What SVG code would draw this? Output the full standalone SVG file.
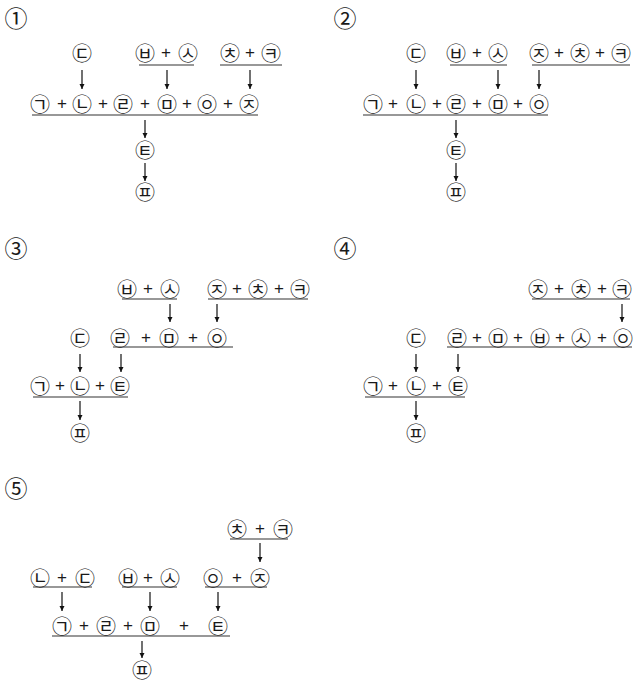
<svg xmlns="http://www.w3.org/2000/svg" width="633" height="683" viewBox="0 0 633 683">
<style>
text{font-family:"Noto Sans CJK KR","Noto Sans CJK JP",sans-serif;fill:#1a1a1a;text-anchor:middle;dominant-baseline:central}
.c{font-size:20px}
.p{font-size:17px;font-family:"Liberation Sans",sans-serif}
.n{font-size:23px;font-family:"Noto Sans CJK KR","DejaVu Sans",sans-serif}
.u{stroke:#333;stroke-width:1.2}
.a{stroke:#111;stroke-width:1.2;marker-end:url(#ah)}
</style>
<defs>
<marker id="ah" viewBox="0 0 10 10" refX="10" refY="5" markerWidth="5" markerHeight="6" markerUnits="userSpaceOnUse" orient="auto"><path d="M0,0L10,5L0,10z" fill="#111"/></marker>
</defs>

<!-- Panel 1 -->
<g id="p1">
<text class="n" x="16" y="17">①</text>
<g id="p1-d"><text class="c" x="82" y="52">㉢</text></g>
<g id="p1-bs"><text class="c" x="145" y="52">㉥</text><text class="p" x="166" y="52">+</text><text class="c" x="188" y="52">㉦</text><line class="u" x1="139" y1="65" x2="194" y2="65"/></g>
<g id="p1-chk"><text class="c" x="230" y="52">㉩</text><text class="p" x="250" y="52">+</text><text class="c" x="271" y="52">㉪</text><line class="u" x1="220" y1="65" x2="282" y2="65"/></g>
<g id="p1-main"><text class="c" x="40" y="103">㉠</text><text class="p" x="62" y="103">+</text><text class="c" x="82" y="103">㉡</text><text class="p" x="103" y="103">+</text><text class="c" x="123" y="103">㉣</text><text class="p" x="145" y="103">+</text><text class="c" x="167" y="103">㉤</text><text class="p" x="187" y="103">+</text><text class="c" x="207" y="103">㉧</text><text class="p" x="228" y="103">+</text><text class="c" x="249" y="103">㉨</text><line class="u" x1="32" y1="115" x2="258" y2="115"/></g>
<g id="p1-t"><text class="c" x="145" y="149">㉫</text></g>
<g id="p1-pp"><text class="c" x="145" y="191">㉬</text></g>
</g>

<!-- Panel 2 -->
<g id="p2">
<text class="n" x="345" y="17">②</text>
<g id="p2-d"><text class="c" x="416" y="52">㉢</text></g>
<g id="p2-bs"><text class="c" x="456" y="52">㉥</text><text class="p" x="477" y="52">+</text><text class="c" x="498" y="52">㉦</text><line class="u" x1="450" y1="65" x2="507" y2="65"/></g>
<g id="p2-jchk"><text class="c" x="539" y="52">㉨</text><text class="p" x="559" y="52">+</text><text class="c" x="580" y="52">㉩</text><text class="p" x="600" y="52">+</text><text class="c" x="621" y="52">㉪</text><line class="u" x1="532" y1="65" x2="630" y2="65"/></g>
<g id="p2-main"><text class="c" x="373" y="103">㉠</text><text class="p" x="393" y="103">+</text><text class="c" x="416" y="103">㉡</text><text class="p" x="437" y="103">+</text><text class="c" x="456" y="103">㉣</text><text class="p" x="477" y="103">+</text><text class="c" x="498" y="103">㉤</text><text class="p" x="518" y="103">+</text><text class="c" x="539" y="103">㉧</text><line class="u" x1="363" y1="115" x2="548" y2="115"/></g>
<g id="p2-t"><text class="c" x="456" y="149">㉫</text></g>
<g id="p2-pp"><text class="c" x="456" y="191">㉬</text></g>
</g>

<!-- Panel 3 -->
<g id="p3">
<text class="n" x="16" y="247">③</text>
<g id="p3-bs"><text class="c" x="127" y="288">㉥</text><text class="p" x="148" y="288">+</text><text class="c" x="170" y="288">㉦</text><line class="u" x1="122" y1="299" x2="177" y2="299"/></g>
<g id="p3-jchk"><text class="c" x="217" y="288">㉨</text><text class="p" x="237" y="288">+</text><text class="c" x="258" y="288">㉩</text><text class="p" x="279" y="288">+</text><text class="c" x="300" y="288">㉪</text><line class="u" x1="208" y1="299" x2="308" y2="299"/></g>
<g id="p3-d"><text class="c" x="80" y="337">㉢</text></g>
<g id="p3-mid"><text class="c" x="120" y="337">㉣</text><text class="p" x="146" y="337">+</text><text class="c" x="169" y="337">㉤</text><text class="p" x="193" y="337">+</text><text class="c" x="217" y="337">㉧</text><line class="u" x1="113" y1="347" x2="233" y2="347"/></g>
<g id="p3-main"><text class="c" x="40" y="385">㉠</text><text class="p" x="60" y="385">+</text><text class="c" x="80" y="385">㉡</text><text class="p" x="100" y="385">+</text><text class="c" x="120" y="385">㉫</text><line class="u" x1="33" y1="397" x2="128" y2="397"/></g>
<g id="p3-pp"><text class="c" x="80" y="432">㉬</text></g>
</g>

<!-- Panel 4 -->
<g id="p4">
<text class="n" x="345" y="247">④</text>
<g id="p4-jchk"><text class="c" x="538" y="288">㉨</text><text class="p" x="559" y="288">+</text><text class="c" x="581" y="288">㉩</text><text class="p" x="602" y="288">+</text><text class="c" x="622" y="288">㉪</text><line class="u" x1="532" y1="299" x2="630" y2="299"/></g>
<g id="p4-d"><text class="c" x="416" y="337">㉢</text></g>
<g id="p4-mid"><text class="c" x="457" y="337">㉣</text><text class="p" x="477" y="337">+</text><text class="c" x="498" y="337">㉤</text><text class="p" x="518" y="337">+</text><text class="c" x="540" y="337">㉥</text><text class="p" x="560" y="337">+</text><text class="c" x="581" y="337">㉦</text><text class="p" x="602" y="337">+</text><text class="c" x="623" y="337">㉧</text><line class="u" x1="447" y1="347" x2="632" y2="347"/></g>
<g id="p4-main"><text class="c" x="373" y="385">㉠</text><text class="p" x="393" y="385">+</text><text class="c" x="416" y="385">㉡</text><text class="p" x="437" y="385">+</text><text class="c" x="458" y="385">㉫</text><line class="u" x1="365" y1="397" x2="465" y2="397"/></g>
<g id="p4-pp"><text class="c" x="416" y="432">㉬</text></g>
</g>

<!-- Panel 5 -->
<g id="p5">
<text class="n" x="16" y="487">⑤</text>
<g id="p5-chk"><text class="c" x="237" y="528">㉩</text><text class="p" x="260" y="528">+</text><text class="c" x="283" y="528">㉪</text><line class="u" x1="230" y1="539" x2="288" y2="539"/></g>
<g id="p5-nd"><text class="c" x="40" y="577">㉡</text><text class="p" x="62" y="577">+</text><text class="c" x="85" y="577">㉢</text><line class="u" x1="33" y1="587" x2="92" y2="587"/></g>
<g id="p5-bs"><text class="c" x="128" y="577">㉥</text><text class="p" x="148" y="577">+</text><text class="c" x="170" y="577">㉦</text><line class="u" x1="122" y1="587" x2="177" y2="587"/></g>
<g id="p5-oj"><text class="c" x="213" y="577">㉧</text><text class="p" x="237" y="577">+</text><text class="c" x="260" y="577">㉨</text><line class="u" x1="205" y1="587" x2="267" y2="587"/></g>
<g id="p5-main"><text class="c" x="62" y="625">㉠</text><text class="p" x="84" y="625">+</text><text class="c" x="106" y="625">㉣</text><text class="p" x="128" y="625">+</text><text class="c" x="150" y="625">㉤</text><text class="p" x="184" y="625">+</text><text class="c" x="218" y="625">㉫</text><line class="u" x1="52" y1="636" x2="230" y2="636"/></g>
<g id="p5-pp"><text class="c" x="142" y="669">㉬</text></g>
</g>

<g id="connectors">
<line class="a" x1="82" y1="70" x2="82" y2="89"/>
<line class="a" x1="167" y1="70" x2="167" y2="89"/>
<line class="a" x1="250" y1="70" x2="250" y2="89"/>
<line class="a" x1="145" y1="120" x2="145" y2="138"/>
<line class="a" x1="145" y1="163" x2="145" y2="181"/>

<line class="a" x1="416" y1="70" x2="416" y2="89"/>
<line class="a" x1="498" y1="70" x2="498" y2="89"/>
<line class="a" x1="539" y1="70" x2="539" y2="89"/>
<line class="a" x1="456" y1="120" x2="456" y2="138"/>
<line class="a" x1="456" y1="163" x2="456" y2="181"/>

<line class="a" x1="170" y1="304" x2="170" y2="322"/>
<line class="a" x1="217" y1="304" x2="217" y2="322"/>
<line class="a" x1="80" y1="354" x2="80" y2="372"/>
<line class="a" x1="121" y1="354" x2="121" y2="372"/>
<line class="a" x1="80" y1="401" x2="80" y2="420"/>

<line class="a" x1="622" y1="304" x2="622" y2="322"/>
<line class="a" x1="416" y1="354" x2="416" y2="372"/>
<line class="a" x1="458" y1="354" x2="458" y2="372"/>
<line class="a" x1="416" y1="401" x2="416" y2="420"/>

<line class="a" x1="260" y1="543" x2="260" y2="562"/>
<line class="a" x1="62" y1="592" x2="62" y2="611"/>
<line class="a" x1="150" y1="592" x2="150" y2="611"/>
<line class="a" x1="218" y1="592" x2="218" y2="611"/>
<line class="a" x1="142" y1="641" x2="142" y2="658"/>
</g>
</svg>
